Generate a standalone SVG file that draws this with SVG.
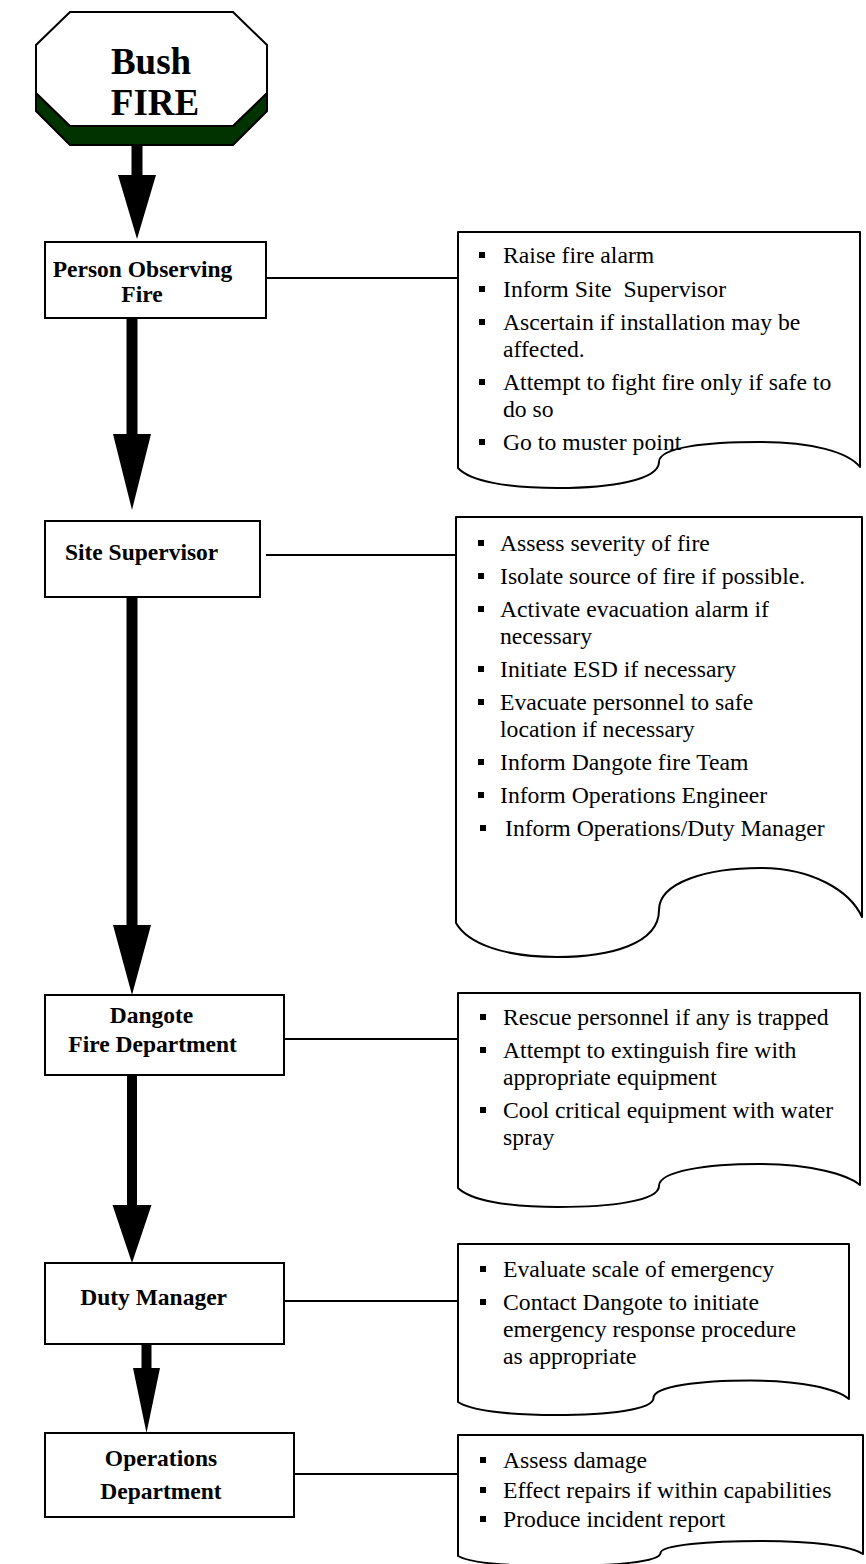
<svg xmlns="http://www.w3.org/2000/svg" width="866" height="1564" viewBox="0 0 866 1564">
<style>
.box{fill:#fff;stroke:#000;stroke-width:2}
.doc{fill:#fff;stroke:#000;stroke-width:2;stroke-linejoin:round}
.ln{stroke:#000;stroke-width:2;fill:none}
.arr{fill:#000}
.nt{font-family:"Liberation Serif","Times New Roman",serif;font-weight:bold;font-size:23.5px;text-anchor:middle;fill:#000}
.tt{font-family:"Liberation Serif","Times New Roman",serif;font-size:23.7px;fill:#000}
.bul{fill:#000}
</style>
<g id="start">
<polygon points="36,93 70,126 233,126 267,93 267,111 233,145 70,145 36,111" fill="#003300" stroke="#000" stroke-width="2"/>
<polygon points="70,12 233,12 267,45 267,93 233,126 70,126 36,93 36,45" fill="#fff" stroke="#000" stroke-width="2"/>
<text x="151" y="74" font-family="Liberation Serif,'Times New Roman',serif" font-weight="bold" font-size="37" text-anchor="middle">Bush</text>
<text x="155" y="115" font-family="Liberation Serif,'Times New Roman',serif" font-weight="bold" font-size="37" text-anchor="middle">FIRE</text>
</g>
<g id="connectors">
<polygon class="arr" points="131.5,145 142.5,145 142.5,175 156,175 137,239 118,175 131.5,175"/>
<polygon class="arr" points="126.5,318 137.5,318 137.5,434 151,434 132,510 113,434 126.5,434"/>
<polygon class="arr" points="126.5,597 137.5,597 137.5,925 151,925 132,995 113,925 126.5,925"/>
<polygon class="arr" points="127,1075 137,1075 137,1205 151.5,1205 132,1263 112.5,1205 127,1205"/>
<polygon class="arr" points="141.5,1344 151.5,1344 151.5,1368 160,1368 146.5,1433 133,1368 141.5,1368"/>
<line class="ln" x1="266" y1="278" x2="458" y2="278"/>
<line class="ln" x1="266" y1="555" x2="456" y2="555"/>
<line class="ln" x1="284" y1="1039" x2="458" y2="1039"/>
<line class="ln" x1="284" y1="1301" x2="458" y2="1301"/>
<line class="ln" x1="285" y1="1474" x2="458" y2="1474"/>
</g>
<g id="person">
<rect class="box" x="45" y="242" width="221" height="76"/>
<text class="nt" x="142.5" y="277">Person Observing</text>
<text class="nt" x="142" y="302">Fire</text>
</g>
<g id="person-actions">
<path class="doc" d="M458,232 H860 V467 C848,452 812,442 760,442 C707,442 659,447 659,462 C659,480 611,488 558,488 C506,488 470,481 458,468 Z"/>
<rect class="bul" x="479" y="252" width="6" height="6"/><text class="tt" x="503" y="263">Raise fire alarm</text>
<rect class="bul" x="479" y="286" width="6" height="6"/><text class="tt" x="503" y="297" xml:space="preserve">Inform Site  Supervisor</text>
<rect class="bul" x="479" y="319" width="6" height="6"/><text class="tt" x="503" y="330">Ascertain if installation may be</text>
<text class="tt" x="503" y="357">affected.</text>
<rect class="bul" x="479" y="379" width="6" height="6"/><text class="tt" x="503" y="390">Attempt to fight fire only if safe to</text>
<text class="tt" x="503" y="417">do so</text>
<rect class="bul" x="479" y="439" width="6" height="6"/><text class="tt" x="503" y="450">Go to muster point</text>
</g>
<g id="site">
<rect class="box" x="45" y="521" width="215" height="76"/>
<text class="nt" x="141.6" y="560">Site Supervisor</text>
</g>
<g id="site-actions">
<path class="doc" d="M456,517 H862 V917 C850,891 813,868 760,868 C708,868 659,882 659,910 C659,944 610,957 557,957 C505,957 468,944 456,923 Z"/>
<rect class="bul" x="478" y="540" width="6" height="6"/><text class="tt" x="500" y="551">Assess severity of fire</text>
<rect class="bul" x="478" y="573" width="6" height="6"/><text class="tt" x="500" y="584">Isolate source of fire if possible.</text>
<rect class="bul" x="478" y="606" width="6" height="6"/><text class="tt" x="500" y="617">Activate evacuation alarm if</text>
<text class="tt" x="500" y="644">necessary</text>
<rect class="bul" x="478" y="666" width="6" height="6"/><text class="tt" x="500" y="677">Initiate ESD if necessary</text>
<rect class="bul" x="478" y="699" width="6" height="6"/><text class="tt" x="500" y="710">Evacuate personnel to safe</text>
<text class="tt" x="500" y="737">location if necessary</text>
<rect class="bul" x="478" y="759" width="6" height="6"/><text class="tt" x="500" y="770">Inform Dangote fire Team</text>
<rect class="bul" x="478" y="792" width="6" height="6"/><text class="tt" x="500" y="803">Inform Operations Engineer</text>
<rect class="bul" x="480" y="825" width="6" height="6"/><text class="tt" x="505" y="836">Inform Operations/Duty Manager</text>
</g>
<g id="fire-dept">
<rect class="box" x="45" y="995" width="239" height="80"/>
<text class="nt" x="151.5" y="1023">Dangote</text>
<text class="nt" x="152.6" y="1052">Fire Department</text>
</g>
<g id="fire-dept-actions">
<path class="doc" d="M458,993 H860 V1185 C848,1175 812,1164 759,1164 C707,1164 659,1171 659,1186 C659,1201 610,1207 558,1207 C506,1207 470,1200 458,1188 Z"/>
<rect class="bul" x="480" y="1014" width="6" height="6"/><text class="tt" x="503" y="1025">Rescue personnel if any is trapped</text>
<rect class="bul" x="480" y="1047" width="6" height="6"/><text class="tt" x="503" y="1058">Attempt to extinguish fire with</text>
<text class="tt" x="503" y="1085">appropriate equipment</text>
<rect class="bul" x="480" y="1107" width="6" height="6"/><text class="tt" x="503" y="1118">Cool critical equipment with water</text>
<text class="tt" x="503" y="1145">spray</text>
</g>
<g id="duty">
<rect class="box" x="45" y="1263" width="239" height="81"/>
<text class="nt" x="153.6" y="1305">Duty Manager</text>
</g>
<g id="duty-actions">
<path class="doc" d="M458,1244 H849 V1399 C837,1389 802,1380.5 750.5,1380.5 C700.5,1380.5 653.5,1386 653.5,1398 C653.5,1410 607,1415 555.75,1415 C505,1415 470,1410 458,1402 Z"/>
<rect class="bul" x="480" y="1266" width="6" height="6"/><text class="tt" x="503" y="1277">Evaluate scale of emergency</text>
<rect class="bul" x="480" y="1299" width="6" height="6"/><text class="tt" x="503" y="1310">Contact Dangote to initiate</text>
<text class="tt" x="503" y="1337">emergency response procedure</text>
<text class="tt" x="503" y="1364">as appropriate</text>
</g>
<g id="ops">
<rect class="box" x="45" y="1433" width="249" height="84"/>
<text class="nt" x="161" y="1466">Operations</text>
<text class="nt" x="161" y="1499">Department</text>
</g>
<g id="ops-actions">
<path class="doc" d="M458,1435 H863 V1554 C851,1546 814,1541 761,1541 C709,1541 660.5,1545 660.5,1553 C660.5,1562 612,1566 559,1566 C507,1566 470,1563 458,1556 Z"/>
<rect class="bul" x="480" y="1457" width="6" height="6"/><text class="tt" x="503" y="1468">Assess damage</text>
<rect class="bul" x="480" y="1487" width="6" height="6"/><text class="tt" x="503" y="1498">Effect repairs if within capabilities</text>
<rect class="bul" x="480" y="1516" width="6" height="6"/><text class="tt" x="503" y="1527">Produce incident report</text>
</g>
</svg>
